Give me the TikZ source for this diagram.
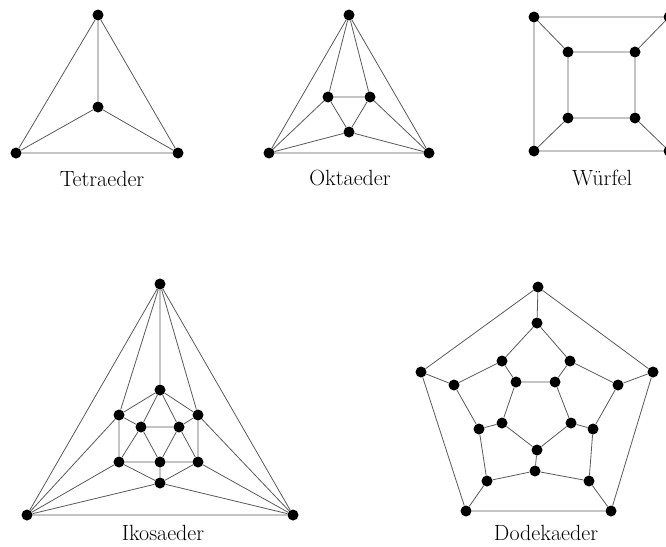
\documentclass[tikz,border=0pt]{standalone}
\begin{document}
\begin{tikzpicture}[x=1pt,y=-1pt,
  dot/.style={circle,fill=black,inner sep=0pt,minimum size=11pt},
  edge/.style={draw=black!65,line width=0.8pt},
  lbl/.style={anchor=base,inner sep=0pt,font=\fontsize{22}{26}\selectfont}]
\useasboundingbox (0,0) rectangle (666,546);
% Tetraeder
\node[dot] (t1) at (98,15) {};
\node[dot] (t2) at (98,107) {};
\node[dot] (t3) at (16,153) {};
\node[dot] (t4) at (178,153) {};
\path[edge] (t1)--(t2) (t1)--(t3) (t1)--(t4) (t2)--(t3) (t2)--(t4) (t3)--(t4);
\node[lbl] (lt) at (102,186) {Tetraeder};
% Oktaeder
\node[dot] (o1) at (349,15) {};
\node[dot] (o2) at (269,153) {};
\node[dot] (o3) at (429,153) {};
\node[dot] (o4) at (328,97) {};
\node[dot] (o5) at (370,97) {};
\node[dot] (o6) at (349,132) {};
\path[edge] (o1)--(o2) (o1)--(o3) (o2)--(o3) (o1)--(o4) (o1)--(o5)
  (o4)--(o5) (o5)--(o6) (o6)--(o4) (o2)--(o4) (o2)--(o6) (o3)--(o5) (o3)--(o6);
\node[lbl] (lo) at (350,185) {Oktaeder};
% Wuerfel
\node[dot] (w1) at (534,17) {};
\node[dot] (w2) at (669,17) {};
\node[dot] (w3) at (534,151) {};
\node[dot] (w4) at (669,151) {};
\node[dot] (w5) at (568,52) {};
\node[dot] (w6) at (635,52) {};
\node[dot] (w7) at (568,118) {};
\node[dot] (w8) at (635,118) {};
\path[edge] (w1)--(w2) (w2)--(w4) (w4)--(w3) (w3)--(w1)
  (w5)--(w6) (w6)--(w8) (w8)--(w7) (w7)--(w5)
  (w1)--(w5) (w2)--(w6) (w3)--(w7) (w4)--(w8);
\node[lbl] (lw) at (602,185) {Würfel};
% Ikosaeder
\node[dot] (i1) at (160,284) {};
\node[dot] (i2) at (27,515) {};
\node[dot] (i3) at (293,515) {};
\node[dot] (i4) at (160,390) {};
\node[dot] (i5) at (119,415) {};
\node[dot] (i6) at (198,415) {};
\node[dot] (i7) at (141,427) {};
\node[dot] (i8) at (179,427) {};
\node[dot] (i9) at (119,462) {};
\node[dot] (i10) at (160,462) {};
\node[dot] (i11) at (198,462) {};
\node[dot] (i12) at (160,483) {};
\path[edge] (i1)--(i2) (i1)--(i3) (i2)--(i3) (i1)--(i4) (i1)--(i5) (i1)--(i6)
  (i2)--(i5) (i2)--(i9) (i2)--(i12) (i3)--(i6) (i3)--(i11) (i3)--(i12)
  (i4)--(i5) (i4)--(i6) (i4)--(i7) (i4)--(i8)
  (i5)--(i7) (i5)--(i9) (i6)--(i8) (i6)--(i11)
  (i7)--(i8) (i7)--(i9) (i7)--(i10) (i8)--(i10) (i8)--(i11)
  (i9)--(i10) (i10)--(i11) (i9)--(i12) (i10)--(i12) (i11)--(i12);
\node[lbl] (li) at (163,540) {Ikosaeder};
% Dodekaeder
\node[dot] (d1) at (538,287) {};
\node[dot] (d2) at (653,372) {};
\node[dot] (d3) at (611,511) {};
\node[dot] (d4) at (466,511) {};
\node[dot] (d5) at (421,372) {};
\node[dot] (r1) at (537,323) {};
\node[dot] (r2) at (570,361) {};
\node[dot] (r3) at (618,385) {};
\node[dot] (r4) at (593,429) {};
\node[dot] (r5) at (589,481) {};
\node[dot] (r6) at (535,471) {};
\node[dot] (r7) at (487,481) {};
\node[dot] (r8) at (479,429) {};
\node[dot] (r9) at (454,385) {};
\node[dot] (r10) at (502,361) {};
\node[dot] (c1) at (516,382) {};
\node[dot] (c2) at (555,382) {};
\node[dot] (c3) at (571,423) {};
\node[dot] (c4) at (537,450) {};
\node[dot] (c5) at (502,423) {};
\path[edge] (d1)--(d2) (d2)--(d3) (d3)--(d4) (d4)--(d5) (d5)--(d1)
  (d1)--(r1) (d2)--(r3) (d3)--(r5) (d4)--(r7) (d5)--(r9)
  (r1)--(r2) (r2)--(r3) (r3)--(r4) (r4)--(r5) (r5)--(r6)
  (r6)--(r7) (r7)--(r8) (r8)--(r9) (r9)--(r10) (r10)--(r1)
  (r10)--(c1) (r2)--(c2) (r4)--(c3) (r6)--(c4) (r8)--(c5)
  (c1)--(c2) (c2)--(c3) (c3)--(c4) (c4)--(c5) (c5)--(c1);
\node[lbl] (ld) at (546,540) {Dodekaeder};
\end{tikzpicture}
\end{document}
